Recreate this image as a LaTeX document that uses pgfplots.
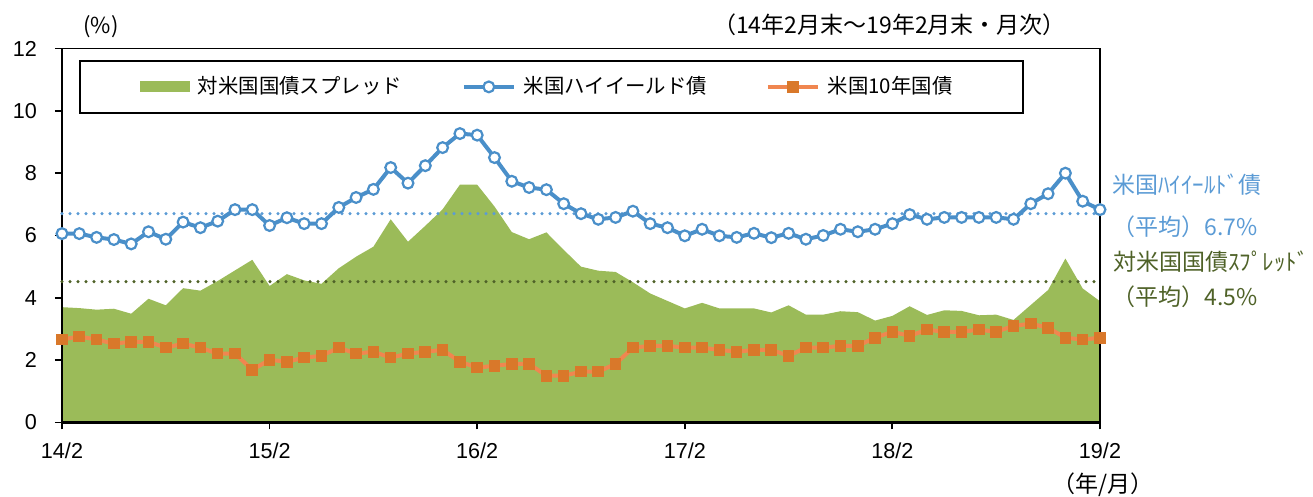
\documentclass[border=0pt]{standalone}
\usepackage{fontspec}
\setmainfont{Liberation Sans}
\newfontfamily\jp{Noto Sans CJK JP}
\usepackage{pgfplots}
\usepackage{pgfplotstable}
\pgfplotsset{compat=1.18}

\definecolor{spreadgreen}{HTML}{9BBB59}
\definecolor{hyblue}{HTML}{4A8FC9}
\definecolor{hytext}{HTML}{5B9BD5}
\definecolor{ustline}{HTML}{F08650}
\definecolor{ustmark}{HTML}{D9782A}
\definecolor{greentext}{HTML}{4F6228}

\pgfplotsset{
  mylineimg/.style={legend image code/.code={\draw[mark repeat=2,mark phase=2,##1] plot coordinates {(0pt,0pt) (12.5pt,0pt) (25pt,0pt)};}},
  myareaimg/.style={legend image code/.code={\fill[spreadgreen] (0pt,-2.75pt) rectangle (25pt,2.75pt);}},
}

\pgfplotstableread{
x spread hy ust
0 3.70 6.06 2.66
1 3.67 6.06 2.76
2 3.62 5.94 2.66
3 3.65 5.87 2.53
4 3.49 5.73 2.59
5 3.97 6.12 2.59
6 3.76 5.88 2.40
7 4.31 6.43 2.53
8 4.23 6.25 2.40
9 4.54 6.46 2.21
10 4.88 6.83 2.21
11 5.22 6.83 1.69
12 4.38 6.32 2.01
13 4.76 6.57 1.95
14 4.56 6.38 2.08
15 4.45 6.38 2.14
16 4.95 6.90 2.40
17 5.32 7.22 2.21
18 5.64 7.48 2.27
19 6.52 8.18 2.08
20 5.80 7.68 2.21
21 6.31 8.24 2.27
22 6.84 8.82 2.33
23 7.63 9.27 1.95
24 7.63 9.22 1.76
25 6.93 8.50 1.82
26 6.11 7.74 1.88
27 5.88 7.54 1.88
28 6.10 7.47 1.50
29 5.54 7.02 1.50
30 5.00 6.70 1.63
31 4.87 6.52 1.63
32 4.83 6.58 1.88
33 4.50 6.78 2.40
34 4.14 6.38 2.46
35 3.90 6.25 2.46
36 3.66 5.99 2.40
37 3.84 6.20 2.40
38 3.66 5.99 2.33
39 3.66 5.94 2.27
40 3.66 6.07 2.33
41 3.53 5.93 2.33
42 3.76 6.07 2.14
43 3.46 5.88 2.40
44 3.46 6.00 2.40
45 3.57 6.20 2.46
46 3.54 6.12 2.46
47 3.27 6.20 2.72
48 3.42 6.38 2.91
49 3.73 6.67 2.78
50 3.45 6.52 2.98
51 3.60 6.58 2.91
52 3.58 6.58 2.91
53 3.44 6.58 2.98
54 3.46 6.58 2.91
55 3.29 6.52 3.10
56 3.77 7.02 3.17
57 4.25 7.34 3.04
58 5.26 8.00 2.72
59 4.30 7.10 2.66
60 3.89 6.83 2.72
}\datatable

\begin{document}
\begin{tikzpicture}[x=1pt,y=1pt]
\useasboundingbox (-31,-37.25) rectangle (625.5,211.25);
\begin{axis}[
  at={(0,0)}, anchor=south west,
  scale only axis, width=519pt, height=187pt,
  xmin=0, xmax=60, ymin=0, ymax=12,
  clip=false,
  xtick={0,12,24,36,48,60},
  xticklabels={14/2,15/2,16/2,17/2,18/2,19/2},
  ytick={0,2,4,6,8,10,12},
  xtick pos=bottom, ytick pos=left,
  tick align=outside,
  major tick length=3.5pt,
  tick style={black, line width=0.9pt},
  axis line style={line width=0.75pt},
  /pgf/number format/assume math mode=true,
  ticklabel style={font=\fontsize{10.8}{13}\selectfont},
  yticklabel style={xshift=-5.5pt},
  xticklabel style={yshift=-3pt},
  legend columns=3,
  legend cell align=left,
  legend style={
    at={(0.0164,0.9693)}, anchor=north west,
    draw=black, line width=0.8pt,
    inner xsep=30pt, inner ysep=8pt,
    nodes={inner sep=0pt},
    /tikz/every odd column/.append style={column sep=4pt},
    font=\jp\fontsize{10.2}{12}\selectfont,
  },
]
\addplot[fill=spreadgreen, draw=none, myareaimg]
  table[x=x,y=spread] {\datatable} \closedcycle;
\addlegendentry{\makebox[132pt][l]{対米国国債スプレッド}}

\draw[line width=1.6pt] (rel axis cs:0,0) -- (rel axis cs:1,0);
\draw[line width=1.3pt] (rel axis cs:0,0) -- (rel axis cs:0,1);
\draw[line width=0.75pt] (rel axis cs:1,0) -- (rel axis cs:1,1);

\addplot[forget plot, hytext, line width=1.7pt, dash pattern=on 0pt off 4pt, line cap=round]
  coordinates {(0,6.70) (60,6.70)};
\addplot[forget plot, greentext, line width=1.7pt, dash pattern=on 0pt off 4pt, line cap=round]
  coordinates {(0,4.52) (60,4.52)};

\addplot[hyblue, line width=2pt, mark=*, mark size=2.7pt,
  mark options={fill=white, draw=hyblue, line width=1.1pt}, mylineimg]
  table[x=x,y=hy] {\datatable};
\addlegendentry{\makebox[121pt][l]{米国ハイイールド債}}

\addplot[ustline, line width=2pt, mark=square*, mark size=2.6pt,
  mark options={fill=ustmark, draw=ustmark, line width=0.6pt}, mylineimg]
  table[x=x,y=ust] {\datatable};
\addlegendentry{\makebox[67.5pt][l]{米国10年国債}}
\end{axis}

\node[font=\jp\fontsize{11}{13}\selectfont] at (19.5,197.75) {(\%)};
\node[font=\jp\fontsize{11.5}{13}\selectfont] at (413.75,198.75) {（14年2月末～19年2月末・月次）};
\node[font=\jp\fontsize{11.5}{13}\selectfont] at (520.5,-31.25) {（年/月）};
\node[font=\jp\fontsize{11.5}{13}\selectfont, text=hytext, anchor=west, inner sep=0pt] at (525,118.75) {米国ﾊｲｲｰﾙﾄﾞ債};
\node[font=\jp\fontsize{11.5}{13}\selectfont, text=hytext, anchor=west, inner sep=0pt] at (525,97.75) {（平均）6.7\%};
\node[font=\jp\fontsize{11.5}{13}\selectfont, text=greentext, anchor=west, inner sep=0pt] at (525.5,80.25) {対米国国債ｽﾌﾟﾚｯﾄﾞ};
\node[font=\jp\fontsize{11.5}{13}\selectfont, text=greentext, anchor=west, inner sep=0pt] at (525,62.75) {（平均）4.5\%};
\end{tikzpicture}
\end{document}
